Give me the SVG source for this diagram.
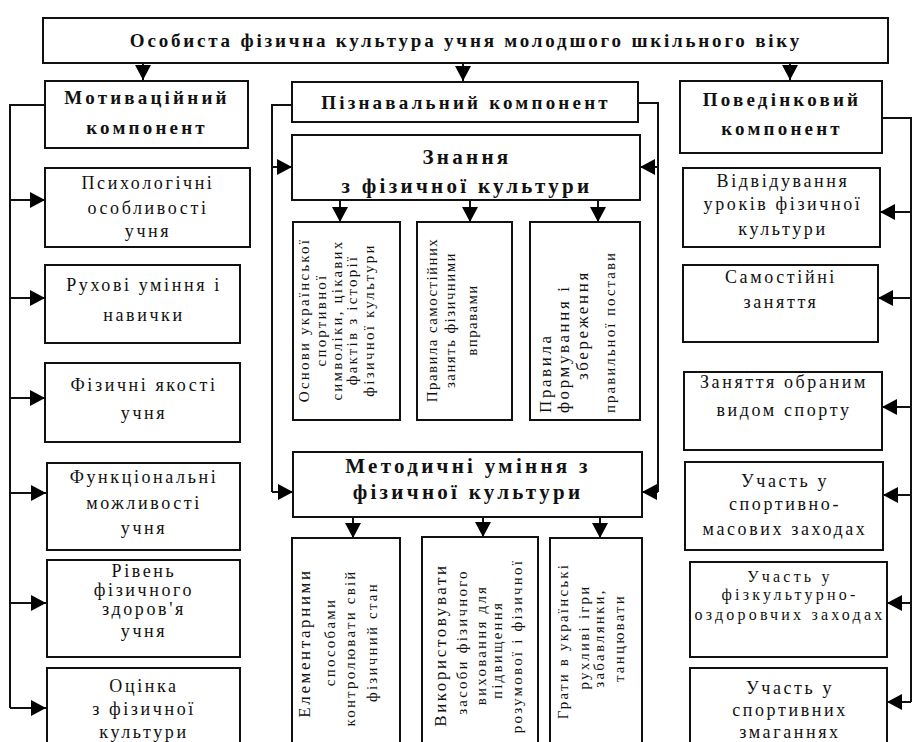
<svg xmlns="http://www.w3.org/2000/svg" width="913" height="742" viewBox="0 0 913 742">
<defs>
<marker id="ah" markerUnits="userSpaceOnUse" markerWidth="16" markerHeight="16" refX="15" refY="8" orient="auto"><path d="M0,0 L15,8 L0,16 z" fill="#000"/></marker>
<style>
rect{fill:#fff;stroke:#111;stroke-width:2}
text{font-family:"Liberation Serif","Times New Roman",serif;fill:#111;text-anchor:middle}
.t{font-weight:bold;font-size:19px;letter-spacing:2.8px}
.b{font-weight:bold;font-size:19px;letter-spacing:3.2px}
.k{font-weight:bold;font-size:21px;letter-spacing:3.3px}
.n{font-size:18px;letter-spacing:2.6px}
.r5{font-size:16px;letter-spacing:3.2px}
.s{font-size:15px;letter-spacing:2.2px}
.v{font-size:15px;letter-spacing:1.4px}
.vb{font-size:17px;letter-spacing:2.6px}
#connectors line,#connectors polyline{stroke:#111;stroke-width:2;fill:none}
</style>
</defs>
<rect x="0" y="0" width="913" height="742" style="fill:#fff;stroke:none"/>
<g id="connectors">
<line x1="143" y1="63" x2="143" y2="80" marker-end="url(#ah)"/>
<line x1="463" y1="63" x2="463" y2="81" marker-end="url(#ah)"/>
<line x1="790" y1="63" x2="790" y2="80" marker-end="url(#ah)"/>
<polyline points="45,105 10,105 10,708"/>
<line x1="10" y1="200" x2="45" y2="200" marker-end="url(#ah)"/>
<line x1="10" y1="298" x2="45" y2="298" marker-end="url(#ah)"/>
<line x1="10" y1="398" x2="45" y2="398" marker-end="url(#ah)"/>
<line x1="10" y1="493" x2="46" y2="493" marker-end="url(#ah)"/>
<line x1="10" y1="603" x2="46" y2="603" marker-end="url(#ah)"/>
<line x1="10" y1="708" x2="46" y2="708" marker-end="url(#ah)"/>
<polyline points="292,105 272,105 272,492"/>
<polyline points="638,103 658,103 658,492"/>
<line x1="272" y1="167" x2="292" y2="167" marker-end="url(#ah)"/>
<line x1="658" y1="167" x2="640" y2="167" marker-end="url(#ah)"/>
<line x1="272" y1="492" x2="293" y2="492" marker-end="url(#ah)"/>
<line x1="658" y1="492" x2="642" y2="492" marker-end="url(#ah)"/>
<line x1="340" y1="200" x2="340" y2="222" marker-end="url(#ah)"/>
<line x1="470" y1="200" x2="470" y2="222" marker-end="url(#ah)"/>
<line x1="598" y1="200" x2="598" y2="222" marker-end="url(#ah)"/>
<line x1="353" y1="517" x2="353" y2="538" marker-end="url(#ah)"/>
<line x1="483" y1="517" x2="483" y2="537" marker-end="url(#ah)"/>
<line x1="600" y1="517" x2="600" y2="538" marker-end="url(#ah)"/>
<polyline points="882,118 911,118 911,702"/>
<line x1="911" y1="212" x2="880" y2="212" marker-end="url(#ah)"/>
<line x1="911" y1="298" x2="878" y2="298" marker-end="url(#ah)"/>
<line x1="911" y1="407" x2="882" y2="407" marker-end="url(#ah)"/>
<line x1="911" y1="495" x2="883" y2="495" marker-end="url(#ah)"/>
<line x1="911" y1="603" x2="887" y2="603" marker-end="url(#ah)"/>
<line x1="911" y1="702" x2="887" y2="702" marker-end="url(#ah)"/>
</g>
<g id="root"><rect x="43" y="18" width="845" height="45"/><text class="t" x="466" y="47">Особиста фізична культура учня молодшого шкільного віку</text></g>
<g id="motiv"><rect x="45" y="81" width="203" height="67"/><text class="b" x="147" y="104">Мотиваційний</text><text class="b" x="147" y="134">компонент</text></g>
<g id="piznav"><rect x="292" y="82" width="346" height="40"/><text class="b" x="466" y="109">Пізнавальний компонент</text></g>
<g id="povedin"><rect x="680" y="81" width="202" height="72"/><text class="b" x="782" y="106">Поведінковий</text><text class="b" x="782" y="135">компонент</text></g>
<g id="znannia"><rect x="292" y="135" width="348" height="65"/><text class="k" x="467" y="164">Знання</text><text class="k" x="467" y="193">з фізичної культури</text></g>
<g id="z1"><rect x="293" y="222" width="107" height="198"/>
<text class="s" transform="translate(309,320) rotate(-90)">Основи української</text>
<text class="s" transform="translate(326,320) rotate(-90)">спортивної</text>
<text class="s" transform="translate(342,320) rotate(-90)">символіки, цікавих</text>
<text class="s" transform="translate(357,320) rotate(-90)">фактів з історії</text>
<text class="s" transform="translate(374,320) rotate(-90)">фізичної культури</text></g>
<g id="z2"><rect x="417" y="222" width="95" height="198"/>
<text class="v" transform="translate(437,320) rotate(-90)">Правила самостійних</text>
<text class="v" transform="translate(455,320) rotate(-90)">занять фізичними</text>
<text class="v" transform="translate(477,320) rotate(-90)">вправами</text></g>
<g id="z3"><rect x="530" y="222" width="110" height="198"/>
<text class="vb" transform="translate(551,413) rotate(-90)" style="text-anchor:start">Правила</text>
<text class="vb" transform="translate(569,413) rotate(-90)" style="text-anchor:start">формування і</text>
<text class="vb" transform="translate(588,380) rotate(-90)" style="text-anchor:start">збереження</text>
<text class="v" transform="translate(615,413) rotate(-90)" style="text-anchor:start;letter-spacing:2px">правильної постави</text></g>
<g id="metod"><rect x="293" y="452" width="349" height="65"/><text class="k" x="468" y="473">Методичні уміння з</text><text class="k" x="468" y="499">фізичної культури</text></g>
<g id="m1"><rect x="292" y="538" width="108" height="215"/>
<text class="vb" transform="translate(310,643) rotate(-90)">Елементарними</text>
<text class="s" transform="translate(335,642) rotate(-90)">способами</text>
<text class="s" transform="translate(355,648) rotate(-90)">контролювати свій</text>
<text class="s" transform="translate(377,642) rotate(-90)">фізичний стан</text></g>
<g id="m2"><rect x="422" y="537" width="116" height="215"/>
<text class="vb" transform="translate(446,645) rotate(-90)">Використовувати</text>
<text class="s" transform="translate(467,642) rotate(-90)">засоби фізичного</text>
<text class="s" transform="translate(486,645) rotate(-90)">виховання для</text>
<text class="s" transform="translate(502,650) rotate(-90)">підвищення</text>
<text class="s" transform="translate(522,646) rotate(-90)">розумової і фізичної</text></g>
<g id="m3"><rect x="550" y="538" width="92" height="215"/>
<text class="s" transform="translate(568,641) rotate(-90)">Грати в українські</text>
<text class="s" transform="translate(589,637) rotate(-90)">рухливі ігри</text>
<text class="s" transform="translate(604,638) rotate(-90)">забавлянки,</text>
<text class="s" transform="translate(624,638) rotate(-90)">танцювати</text></g>
<g id="l1"><rect x="45" y="168" width="205" height="79"/><text class="n" x="148" y="189">Психологічні</text><text class="n" x="148" y="214">особливості</text><text class="n" x="148" y="237">учня</text></g>
<g id="l2"><rect x="45" y="265" width="195" height="78"/><text class="n" x="144" y="291">Рухові уміння і</text><text class="n" x="144" y="321">навички</text></g>
<g id="l3"><rect x="45" y="363" width="195" height="79"/><text class="n" x="144" y="391">Фізичні якості</text><text class="n" x="144" y="419">учня</text></g>
<g id="l4"><rect x="47" y="463" width="193" height="87"/><text class="n" x="144" y="483">Функціональні</text><text class="n" x="144" y="509">можливості</text><text class="n" x="144" y="534">учня</text></g>
<g id="l5"><rect x="47" y="560" width="193" height="97"/><text class="n" x="144" y="577">Рівень</text><text class="n" x="144" y="596">фізичного</text><text class="n" x="144" y="615">здоров'я</text><text class="n" x="144" y="637">учня</text></g>
<g id="l6"><rect x="47" y="668" width="193" height="85"/><text class="n" x="144" y="692">Оцінка</text><text class="n" x="144" y="715">з фізичної</text><text class="n" x="144" y="738">культури</text></g>
<g id="r1"><rect x="683" y="168" width="197" height="79"/><text class="n" x="783" y="187">Відвідування</text><text class="n" x="783" y="210">уроків фізичної</text><text class="n" x="783" y="235">культури</text></g>
<g id="r2"><rect x="683" y="265" width="195" height="77"/><text class="n" x="781" y="283">Самостійні</text><text class="n" x="781" y="308">заняття</text></g>
<g id="r3"><rect x="684" y="372" width="198" height="78"/><text class="n" x="784" y="388">Заняття обраним</text><text class="n" x="784" y="416">видом спорту</text></g>
<g id="r4"><rect x="685" y="462" width="198" height="88"/><text class="n" x="785" y="487">Участь у</text><text class="n" x="785" y="510">спортивно-</text><text class="n" x="785" y="535">масових заходах</text></g>
<g id="r5"><rect x="690" y="562" width="197" height="95"/><text class="r5" x="790" y="582">Участь у</text><text class="r5" x="790" y="600">фізкультурно-</text><text class="r5" x="790" y="620">оздоровчих заходах</text></g>
<g id="r6"><rect x="690" y="668" width="197" height="85"/><text class="n" x="790" y="694">Участь у</text><text class="n" x="790" y="716">спортивних</text><text class="n" x="790" y="738">змаганнях</text></g>
</svg>
